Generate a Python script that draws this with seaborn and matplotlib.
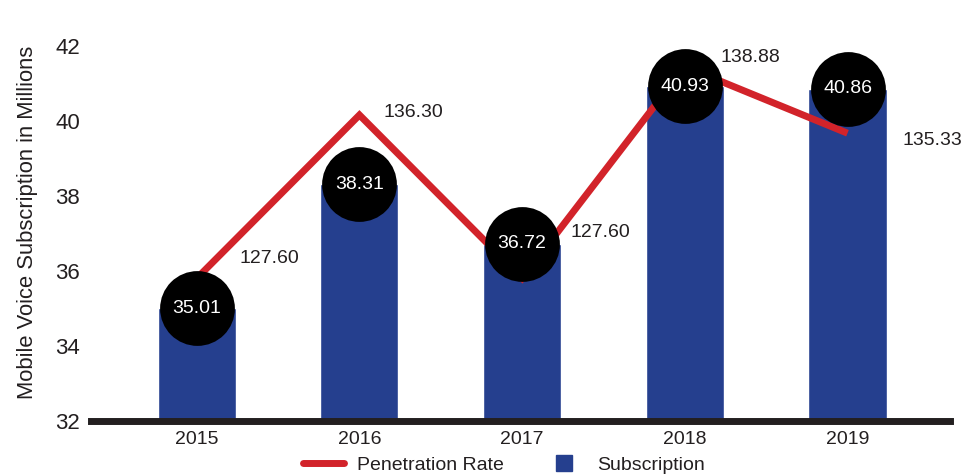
import matplotlib
matplotlib.use("Agg")
import matplotlib.pyplot as plt
from matplotlib.lines import Line2D
import numpy as np
import pandas as pd
import seaborn as sns

# ---- data ----
years = ["2015", "2016", "2017", "2018", "2019"]
subscription = [35.01, 38.31, 36.72, 40.93, 40.86]
penetration = [127.60, 136.30, 127.60, 138.88, 135.33]
y_ticks = [32, 34, 36, 38, 40, 42]
y_label = "Mobile Voice Subscription in Millions"
legend_labels = ["Penetration Rate", "Subscription"]

# ---- style ----
sns.set_theme(style="white")
plt.rcParams["font.family"] = ["Liberation Sans", "DejaVu Sans"]
TEXT = "#231F20"
BLUE = "#253F8E"
RED = "#D2232A"
FS = 14

df = pd.DataFrame({"year": years, "subscription": subscription,
                   "penetration": penetration, "idx": np.arange(len(years))})

fig = plt.figure(figsize=(9.64, 4.75), dpi=100)
ax = fig.add_axes([91 / 964, 54 / 475, 859 / 964, 398 / 475])

sns.barplot(data=df, x="year", y="subscription", color=BLUE, width=0.48,
            saturation=1, ax=ax, zorder=2)
ax.set_xlim(-0.65, 4.63)
ax.set_ylim(32, 42.61)
ax.set_yticks(y_ticks)
ax.set_yticklabels([str(t) for t in y_ticks])
ax.tick_params(axis="both", length=0, labelsize=FS, labelcolor=TEXT)
ax.tick_params(axis="y", pad=8, labelsize=16)
ax.tick_params(axis="x", pad=7)
ax.set_xlabel("")
ax.set_ylabel(y_label, fontsize=15.8, color=TEXT, labelpad=12)
for s in ["top", "right", "left"]:
    ax.spines[s].set_visible(False)
ax.spines["bottom"].set_color(TEXT)
ax.spines["bottom"].set_linewidth(5)
ax.spines["bottom"].set_zorder(5)

# secondary (hidden) axis for penetration rate
ax2 = ax.twinx()
sns.lineplot(data=df, x="idx", y="penetration", color=RED, linewidth=5,
             ax=ax2, zorder=3, solid_joinstyle="miter", solid_capstyle="butt")
ax2.set_ylim(120, 141.2)
ax2.set_xlim(-0.65, 4.63)
ax2.set_axis_off()

# black circles with subscription values (drawn over the line)
ax2.scatter(df["idx"], df["subscription"], s=2900, color="black",
            transform=ax.transData, zorder=6, linewidths=0)
for i, v in enumerate(subscription):
    ax2.text(i, v, f"{v:.2f}", transform=ax.transData, ha="center",
             va="center", color="white", fontsize=FS, zorder=7)

# penetration labels
pen_offsets = [(73, 20), (54, 2), (78, 46), (66, 9), (85, -7)]
for i, (v, off) in enumerate(zip(penetration, pen_offsets)):
    ax2.annotate(f"{v:.2f}", xy=(i, v), xytext=(off[0] * 0.72, off[1] * 0.72),
                 textcoords="offset points", ha="center", va="center",
                 color=TEXT, fontsize=FS, zorder=8)

handles = [Line2D([0], [0], color=RED, lw=5),
           Line2D([0], [0], marker="s", color=BLUE, linestyle="none",
                  markersize=11.5)]
fig.legend(handles, legend_labels, loc="center", ncol=2,
           bbox_to_anchor=(0.523, 0.021), frameon=False, fontsize=FS,
           handlelength=2.1, handletextpad=0.7, columnspacing=2.0,
           labelcolor=TEXT)

fig.savefig("out.png", dpi=100)
